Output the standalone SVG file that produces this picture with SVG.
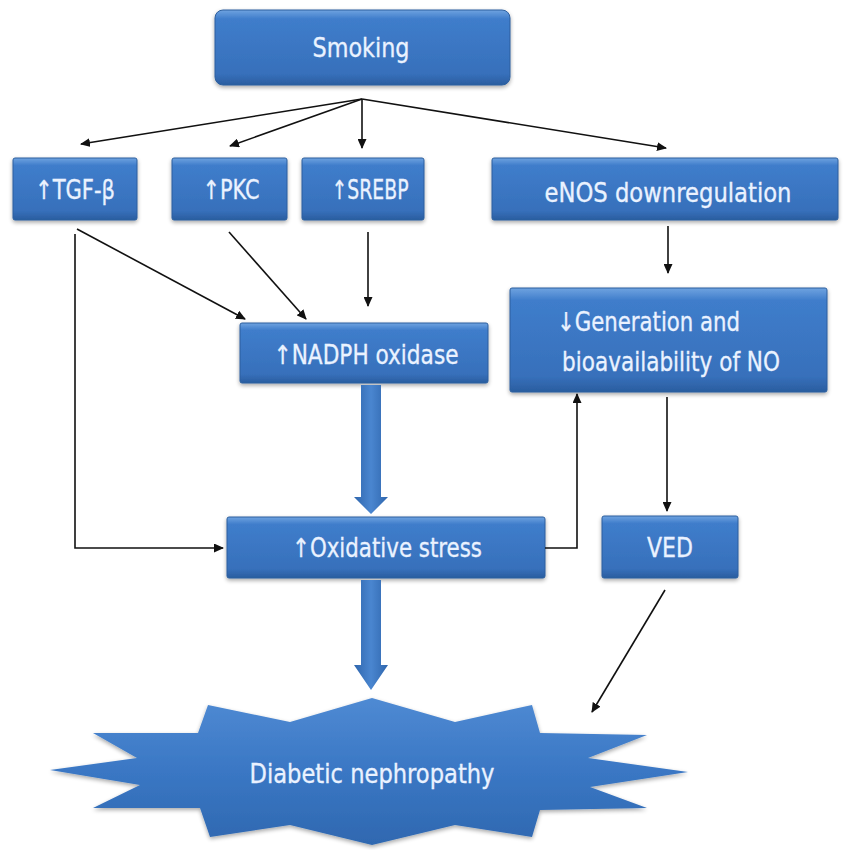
<svg xmlns="http://www.w3.org/2000/svg" width="843" height="850" viewBox="0 0 843 850">
<defs>
<linearGradient id="bx" x1="0" y1="0" x2="0" y2="1">
<stop offset="0" stop-color="#6fa3e0"/>
<stop offset="0.12" stop-color="#3f7dcb"/>
<stop offset="0.85" stop-color="#3770bb"/>
<stop offset="1" stop-color="#2a5d9f"/>
</linearGradient>
<linearGradient id="star" x1="0" y1="0" x2="0" y2="1">
<stop offset="0" stop-color="#4f8ad3"/>
<stop offset="0.5" stop-color="#3a77c4"/>
<stop offset="1" stop-color="#2f68b0"/>
</linearGradient>
<linearGradient id="ba" x1="0" y1="0" x2="1" y2="0">
<stop offset="0" stop-color="#2f66ad"/>
<stop offset="0.5" stop-color="#4a86d0"/>
<stop offset="1" stop-color="#2f66ad"/>
</linearGradient>
<filter id="sh" x="-10%" y="-10%" width="120%" height="130%">
<feGaussianBlur in="SourceAlpha" stdDeviation="2"/>
<feOffset dx="0" dy="2" result="b"/>
<feComponentTransfer><feFuncA type="linear" slope="0.35"/></feComponentTransfer>
<feMerge><feMergeNode/><feMergeNode in="SourceGraphic"/></feMerge>
</filter>
<marker id="ah" viewBox="0 0 10 10" refX="9" refY="5" markerWidth="10" markerHeight="9" markerUnits="userSpaceOnUse" orient="auto" preserveAspectRatio="none">
<path d="M0,0 L10,5 L0,10 z" fill="#111"/>
</marker>
</defs>
<style>
.box{fill:url(#bx);stroke:#2d5f9e;stroke-width:1;filter:url(#sh)}
.t{font-family:"DejaVu Sans Condensed","DejaVu Sans",sans-serif;font-size:26px;fill:#eaf2ff;text-anchor:middle;stroke:#eaf2ff;stroke-width:0.3}
.tl{font-family:"DejaVu Sans Condensed","DejaVu Sans",sans-serif;font-size:26px;fill:#eaf2ff;stroke:#eaf2ff;stroke-width:0.3}
.c{fill:none;stroke:#111;stroke-width:1.6;marker-end:url(#ah)}
</style>
<rect width="843" height="850" fill="#ffffff"/>

<g id="smoking"><rect class="box" x="215" y="10" width="295" height="75" rx="8"/><text class="t" x="361" y="57" textLength="97" lengthAdjust="spacingAndGlyphs">Smoking</text></g>
<g id="tgf"><rect class="box" x="13" y="158" width="124" height="62" rx="2"/><text class="t" x="75" y="199" textLength="80" lengthAdjust="spacingAndGlyphs">↑TGF-β</text></g>
<g id="pkc"><rect class="box" x="172" y="158" width="115" height="62" rx="2"/><text class="t" x="231" y="199" textLength="57" lengthAdjust="spacingAndGlyphs">↑PKC</text></g>
<g id="srebp"><rect class="box" x="302" y="158" width="122" height="62" rx="2"/><text class="t" x="370" y="199" textLength="77" lengthAdjust="spacingAndGlyphs">↑SREBP</text></g>
<g id="enos"><rect class="box" x="492" y="158" width="346" height="62" rx="2"/><text class="t" x="668" y="202" textLength="247" lengthAdjust="spacingAndGlyphs">eNOS downregulation</text></g>
<g id="generation"><rect class="box" x="510" y="288" width="317" height="104" rx="2"/><text class="tl" x="557" y="331" textLength="183" lengthAdjust="spacingAndGlyphs">↓Generation and</text><text class="tl" x="562" y="371" textLength="218" lengthAdjust="spacingAndGlyphs">bioavailability of NO</text></g>
<g id="nadph"><rect class="box" x="240" y="323" width="248" height="60" rx="2"/><text class="t" x="366" y="364" textLength="185" lengthAdjust="spacingAndGlyphs">↑NADPH oxidase</text></g>
<g id="oxidative"><rect class="box" x="227" y="517" width="318" height="61" rx="2"/><text class="t" x="387" y="557" textLength="190" lengthAdjust="spacingAndGlyphs">↑Oxidative stress</text></g>
<g id="ved"><rect class="box" x="602" y="516" width="136" height="62" rx="2"/><text class="t" x="670" y="557" textLength="46" lengthAdjust="spacingAndGlyphs">VED</text></g>
<g id="nephropathy"><path d="M208,705 L290,722 L372,698 L455,722 L532,705 L540,733 L647,735 L588,758 L688,772 L590,787 L647,808 L540,810 L532,837 L455,825 L372,845 L290,825 L210,837 L200,808 L93,808 L140,785 L50,770 L137,758 L93,733 L198,733 Z" fill="url(#star)" filter="url(#sh)"/><text class="t" x="372" y="783" textLength="245" lengthAdjust="spacingAndGlyphs">Diabetic nephropathy</text></g>

<g id="connectors">
<path class="c" d="M362,99 L81,144"/>
<path class="c" d="M362,99 L230,146"/>
<path class="c" d="M362,99 L362,148"/>
<path class="c" d="M362,99 L666,148"/>
<path class="c" d="M77,229 L245,319"/>
<path class="c" d="M229,232 L306,319"/>
<path class="c" d="M368,232 L368,306"/>
<path class="c" d="M75,234 L75,548 L223,548"/>
<path class="c" d="M545,548 L577,548 L577,394"/>
<path class="c" d="M668,226 L668,273"/>
<path class="c" d="M667,397 L667,511"/>
<path class="c" d="M665,590 L592,712"/>
<path d="M361,385 L381,385 L381,497 L388,497 L371,514 L354,497 L361,497 Z" fill="url(#ba)"/>
<path d="M361,580 L381,580 L381,665 L388,665 L371,690 L354,665 L361,665 Z" fill="url(#ba)"/>
</g>
</svg>
